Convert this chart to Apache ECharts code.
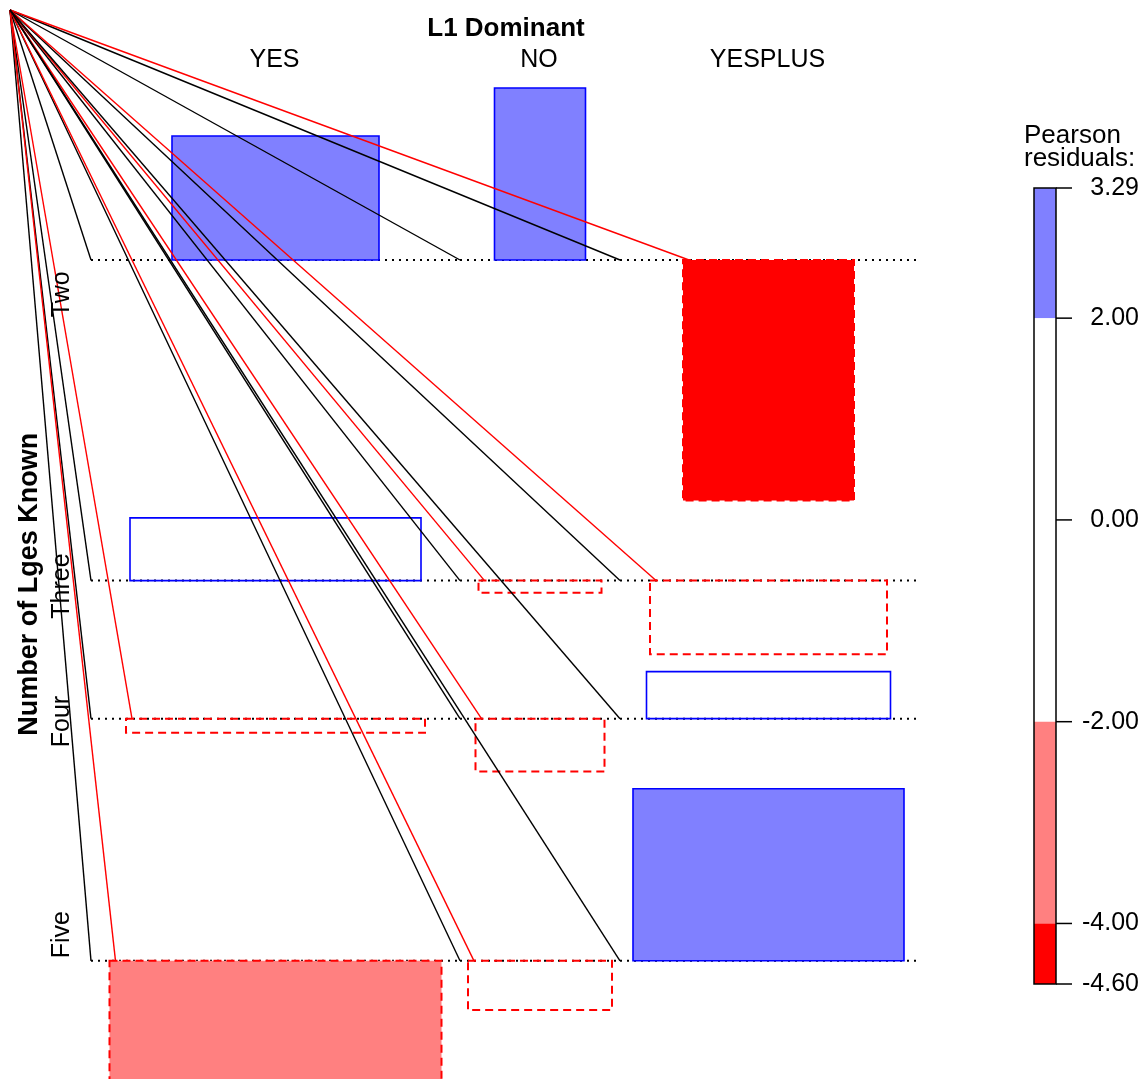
<!DOCTYPE html>
<html>
<head>
<meta charset="utf-8">
<title>Association plot</title>
<script src="https://cdn.jsdelivr.net/npm/echarts@6/dist/echarts.min.js"></script>
<style>
  html, body { margin: 0; padding: 0; background: #fff; }
  #chart { width: 1146px; height: 1079px; }
</style>
</head>
<body>
<div id="chart"></div>
<script>
// Number of Lges Known x L1 Dominant
const rows = ['Two', 'Three', 'Four', 'Five'];
const cols = ['YES', 'NO', 'YESPLUS'];

// Pearson residuals (rows x cols)
const residuals = [
  [2.37, 3.29, -4.60],
  [1.20, -0.23, -1.41],
  [-0.27, -1.01, 0.90],
  [-2.29, -0.94, 3.29]
];

// sqrt(expected counts) -> box widths
const sqrtExpected = [
  [8.28, 3.64, 6.84],
  [11.64, 4.92, 9.48],
  [11.96, 5.16, 9.76],
  [13.28, 5.76, 10.84]
];

// width reserved for each column
const colSpan = [14.76, 6.4, 11.88];

const legendTicks = [3.29, 2, 0, -2, -4, -4.6];
const shadeLo = [2, -2, -4, -4.6];
const shadeHi = [3.29, 2, -2, -4];
const shadeColors = ['#8080FF', '#FFFFFF', '#FF8080', '#FF0000'];

const FONT = '"Liberation Sans", Arial, Helvetica, sans-serif';
const W = 1146, H = 1079;
const rowGap = 0.33;
const pxPerX = 25, pxPerY = 52.3;
const originPx = [91, 260];   // first column start / first baseline
const fanOrigin = [10, 10];
const redFanShift = 6;

// layout of the cells
const rowBase = [];
rows.forEach(function (r, i) {
  if (i === 0) { rowBase.push(0); return; }
  const prevMin = Math.min(0, ...residuals[i - 1]);
  const curMax = Math.max(0, ...residuals[i]);
  rowBase.push(rowBase[i - 1] + prevMin - rowGap - curMax);
});
const colStart = [];
colSpan.reduce(function (acc, w) { colStart.push(acc); return acc + w; }, 0);
const totalX = colSpan.reduce((a, b) => a + b, 0);

const xMin = -originPx[0] / pxPerX, xMax = xMin + W / pxPerX;
const yMax = originPx[1] / pxPerY, yMin = yMax - H / pxPerY;

function cell(i, j) {
  const cx = colStart[j] + colSpan[j] / 2;
  const w = sqrtExpected[i][j];
  return {
    x0: colStart[j], x1: colStart[j] + colSpan[j],
    left: cx - w / 2, right: cx + w / 2,
    base: rowBase[i], r: residuals[i][j]
  };
}

function shade(r) {
  for (let k = 0; k < shadeColors.length; k++) {
    if (r >= shadeLo[k] && r <= shadeHi[k]) return k;
  }
  return 1;
}

const cellData = [];
const fanData = [];
rows.forEach(function (r, i) {
  cols.forEach(function (c, j) {
    cellData.push([i, j]);
    const ce = cell(i, j);
    fanData.push([ce.x0, ce.base, 0, 0]);
    if (ce.r < 0) fanData.push([ce.left, ce.base, redFanShift, 1]);
  });
});

const chart = echarts.init(document.getElementById('chart'));

const option = {
  animation: false,
  backgroundColor: '#fff',
  grid: [
    { left: 0, top: 0, width: W, height: H },
    { left: 1034, top: 188, width: 22, height: 796 }
  ],
  xAxis: [
    { type: 'value', gridIndex: 0, min: xMin, max: xMax, show: false },
    { type: 'value', gridIndex: 1, min: 0, max: 1, show: false }
  ],
  yAxis: [
    { type: 'value', gridIndex: 0, min: yMin, max: yMax, show: false },
    {
      type: 'value', gridIndex: 1, min: -4.6, max: 3.29, position: 'right',
      splitLine: { show: false },
      axisLine: { show: false },
      axisTick: { show: false },
      axisLabel: {
        customValues: legendTicks, formatter: v => v.toFixed(2),
        color: '#000', fontSize: 25, fontFamily: FONT, align: 'right', margin: 83
      }
    }
  ],
  graphic: [{
    type: 'text', left: 1024, top: 123,
    style: { text: 'Pearson\nresiduals:', font: '26px ' + FONT, fill: '#000', lineHeight: 23 }
  }],
  series: [
    {
      type: 'custom', name: 'cells', xAxisIndex: 0, yAxisIndex: 0, silent: true, z: 2,
      data: cellData,
      renderItem: function (params, api) {
        const ce = cell(api.value(0), api.value(1));
        const a = api.coord([ce.x0, ce.base]), b = api.coord([ce.x1, ce.base]);
        const p1 = api.coord([ce.left, ce.base + Math.max(ce.r, 0)]);
        const p2 = api.coord([ce.right, ce.base + Math.min(ce.r, 0)]);
        const k = shade(ce.r);
        const neg = ce.r < 0;
        return {
          type: 'group',
          children: [
            { type: 'line', shape: { x1: a[0], y1: a[1], x2: b[0], y2: b[1] },
              style: { stroke: '#000', lineWidth: 2, lineDash: [2, 5] } },
            { type: 'rect',
              shape: { x: p1[0], y: p1[1], width: p2[0] - p1[0], height: p2[1] - p1[1] },
              style: {
                fill: k === 1 ? 'none' : shadeColors[k],
                stroke: neg ? '#FF0000' : '#0000FF', lineWidth: neg ? 2 : 1.6,
                lineDash: neg ? [8, 5] : null
              } }
          ]
        };
      }
    },
    {
      type: 'custom', name: 'fan', xAxisIndex: 0, yAxisIndex: 0, silent: true, z: 3,
      data: fanData,
      renderItem: function (params, api) {
        const p = api.coord([api.value(0), api.value(1)]);
        return {
          type: 'line',
          shape: { x1: fanOrigin[0], y1: fanOrigin[1], x2: p[0] + api.value(2), y2: p[1] },
          style: { stroke: api.value(3) ? '#FF0000' : '#000', lineWidth: 1.4 }
        };
      }
    },
    {
      type: 'custom', name: 'rowLabels', xAxisIndex: 0, yAxisIndex: 0, silent: true, z: 4,
      data: rows.map((r, i) => [i]),
      renderItem: function (params, api) {
        const i = api.value(0);
        const mid = rowBase[i] + (Math.max(0, ...residuals[i]) + Math.min(0, ...residuals[i])) / 2;
        const p = api.coord([0, mid]);
        return {
          type: 'text', x: 62, y: p[1], rotation: Math.PI / 2,
          style: { text: rows[i], font: '25px ' + FONT, fill: '#000', align: 'center', verticalAlign: 'middle' }
        };
      }
    },
    {
      type: 'custom', name: 'colLabels', xAxisIndex: 0, yAxisIndex: 0, silent: true, z: 4,
      data: cols.map((c, j) => [j]),
      renderItem: function (params, api) {
        const j = api.value(0);
        const p = api.coord([colStart[j] + colSpan[j] / 2, 0]);
        return {
          type: 'text', x: p[0] - 1, y: 60,
          style: { text: cols[j], font: '25px ' + FONT, fill: '#000', align: 'center', verticalAlign: 'middle' }
        };
      }
    },
    {
      type: 'custom', name: 'titles', xAxisIndex: 0, yAxisIndex: 0, silent: true, z: 4,
      data: [[0]],
      renderItem: function (params, api) {
        const top = rowBase[0] + Math.max(0, ...residuals[0]);
        const last = rows.length - 1;
        const bottom = rowBase[last] + Math.min(0, ...residuals[last]);
        const pc = api.coord([totalX / 2, (top + bottom) / 2]);
        return {
          type: 'group',
          children: [
            { type: 'text', x: pc[0] + 2, y: 29,
              style: { text: 'L1 Dominant', font: 'bold 26px ' + FONT, fill: '#000', align: 'center', verticalAlign: 'middle' } },
            { type: 'text', x: 30, y: pc[1], rotation: Math.PI / 2,
              style: { text: 'Number of Lges Known', font: 'bold 27px ' + FONT, fill: '#000', align: 'center', verticalAlign: 'middle' } }
          ]
        };
      }
    },
    {
      type: 'custom', name: 'legendBar', xAxisIndex: 1, yAxisIndex: 1, silent: true, z: 2,
      data: shadeColors.map((c, k) => [k]),
      renderItem: function (params, api) {
        const k = api.value(0);
        const p1 = api.coord([0, shadeHi[k]]), p2 = api.coord([1, shadeLo[k]]);
        return {
          type: 'rect', shape: { x: p1[0], y: p1[1], width: p2[0] - p1[0], height: p2[1] - p1[1] },
          style: { fill: shadeColors[k] }
        };
      }
    },
    {
      type: 'custom', name: 'legendFrame', xAxisIndex: 1, yAxisIndex: 1, silent: true, z: 3,
      data: [[0]],
      renderItem: function (params, api) {
        const p1 = api.coord([0, shadeHi[0]]), p2 = api.coord([1, shadeLo[shadeLo.length - 1]]);
        const ticks = legendTicks.map(function (v) {
          const p = api.coord([1, v]);
          return { type: 'line', shape: { x1: p[0], y1: p[1], x2: p[0] + 16, y2: p[1] },
                   style: { stroke: '#000', lineWidth: 1.5 } };
        });
        return {
          type: 'group',
          children: [{
            type: 'rect', shape: { x: p1[0], y: p1[1], width: p2[0] - p1[0], height: p2[1] - p1[1] },
            style: { fill: 'none', stroke: '#000', lineWidth: 1.5 }
          }].concat(ticks)
        };
      }
    }
  ]
};

chart.setOption(option);
window.onresize = chart.resize;
</script>
</body>
</html>
